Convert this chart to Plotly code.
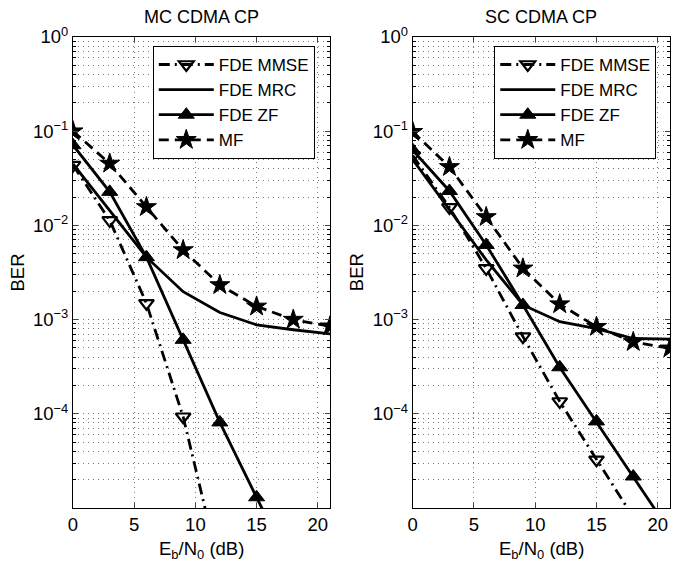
import plotly.graph_objects as go

# ---------------- data ----------------
snr = [0, 3, 6, 9, 12, 15, 18, 21]

# MC CDMA CP (left)
mc_mmse_x = [0, 3, 6, 9, 12]
mc_mmse = [0.0436, 0.0113, 0.00149, 9.3e-5, 2.2e-6]
mc_mrc = [0.045, 0.0143, 0.0046, 0.00198, 0.00119, 0.00088, 0.00078, 0.000705]
mc_zf_x = [0, 3, 6, 9, 12, 15, 18]
mc_zf = [0.071, 0.0227, 0.0046, 0.00061, 8.1e-5, 1.3e-5, 2.1e-6]
mc_mf = [0.1, 0.0454, 0.0157, 0.00547, 0.00233, 0.00138, 0.00100, 0.00085]

# SC CDMA CP (right)
sc_mmse_x = [0, 3, 6, 9, 12, 15, 18]
sc_mmse = [0.055, 0.0155, 0.0035, 0.00066, 0.000135, 3.25e-5, 8e-6]
sc_mrc = [0.05, 0.0148, 0.0043, 0.00143, 0.00095, 0.0008, 0.00063, 0.00062]
sc_zf = [0.063, 0.0232, 0.0062, 0.00143, 0.000312, 8.3e-5, 2.16e-5, 5.6e-6]
sc_mf = [0.0986, 0.0418, 0.0123, 0.0035, 0.00146, 0.00084, 0.00058, 0.000496]

titles = ["MC CDMA CP", "SC CDMA CP"]
names = ["FDE MMSE", "FDE MRC", "FDE ZF", "MF"]
xticks = [0, 5, 10, 15, 20]
yticks = [1e-4, 1e-3, 1e-2, 1e-1, 1]
yticktext = ["10<sup>\u22124</sup>", "10<sup>\u22123</sup>", "10<sup>\u22122</sup>",
             "10<sup>\u22121</sup>", "10<sup>0</sup>"]

FONT = "Liberation Sans, Arial, Helvetica, sans-serif"
LW = 2.8

fig = go.Figure()


def add_set(xa, ya, leg, mmse_x, mmse, mrc, zf_x, zf, mf):
    fig.add_trace(go.Scatter(
        x=mmse_x, y=mmse, name=names[0], xaxis=xa, yaxis=ya, legend=leg,
        mode="lines+markers",
        line=dict(color="black", width=LW, dash="11px,5px,2px,5px"),
        marker=dict(symbol="triangle-down-open", size=13, color="black",
                    line=dict(color="black", width=2.2))))
    fig.add_trace(go.Scatter(
        x=snr, y=mrc, name=names[1], xaxis=xa, yaxis=ya, legend=leg,
        mode="lines", line=dict(color="black", width=LW)))
    fig.add_trace(go.Scatter(
        x=zf_x, y=zf, name=names[2], xaxis=xa, yaxis=ya, legend=leg,
        mode="lines+markers", line=dict(color="black", width=LW),
        marker=dict(symbol="triangle-up", size=14, color="black",
                    line=dict(color="black", width=1))))
    fig.add_trace(go.Scatter(
        x=snr, y=mf, name=names[3], xaxis=xa, yaxis=ya, legend=leg,
        mode="lines+markers",
        line=dict(color="black", width=LW, dash="10px,6px"),
        marker=dict(symbol="star", size=15, color="black",
                    line=dict(color="black", width=1))))


add_set("x", "y", "legend", mc_mmse_x, mc_mmse, mc_mrc, mc_zf_x, mc_zf, mc_mf)
add_set("x2", "y2", "legend2", sc_mmse_x, sc_mmse, sc_mrc, snr, sc_zf, sc_mf)

GRID = "#777777"
xa_common = dict(
    range=[0, 21], tickvals=xticks, ticks="inside", ticklen=5,
    showline=True, linecolor="black", linewidth=1, mirror="ticks",
    showgrid=True, gridcolor=GRID, griddash="1px,4px", gridwidth=1,
    zeroline=False, tickfont=dict(size=18.5, color="black", family=FONT),
)
ya_common = dict(
    type="log", range=[-5, 0], tickvals=yticks, ticktext=yticktext,
    ticks="inside", ticklen=5,
    showline=True, linecolor="black", linewidth=1, mirror="ticks",
    showgrid=True, gridcolor=GRID, griddash="1px,4px", gridwidth=1,
    zeroline=False, tickfont=dict(size=18.5, color="black", family=FONT),
    minor=dict(dtick="D1", ticks="inside", ticklen=3, tickcolor="black",
               showgrid=True, gridcolor=GRID, griddash="1px,4px", gridwidth=1),
)

D1 = [0, 0.4305]
D2 = [0.569, 1]

leg_common = dict(
    bgcolor="white", bordercolor="black", borderwidth=1,
    font=dict(size=17, color="black", family=FONT),
    xanchor="right", yanchor="top", y=0.981, itemwidth=55,
    traceorder="normal", tracegroupgap=0,
)

# the page body adds an 8px offset; compensate so the plot area lands
# at x 73..670, y 37..508 of the 685x571 window
fig.update_layout(
    width=677, height=563,
    margin=dict(l=65, r=15, t=29, b=63),
    paper_bgcolor="white", plot_bgcolor="white",
    font=dict(family=FONT, size=18, color="black"),
    xaxis=dict(domain=D1, anchor="y", **xa_common),
    yaxis=dict(anchor="x", **ya_common),
    xaxis2=dict(domain=D2, anchor="y2", **xa_common),
    yaxis2=dict(anchor="x2", **ya_common),
    legend=dict(x=0.405, **leg_common),
    legend2=dict(x=0.977, **leg_common),
    showlegend=True,
)

for dom, t in zip([D1, D2], titles):
    cx = (dom[0] + dom[1]) / 2
    fig.add_annotation(text=t, x=cx, y=1, xref="paper", yref="paper",
                       xanchor="center", yanchor="middle", yshift=20,
                       showarrow=False, font=dict(size=18, family=FONT))
    fig.add_annotation(text="E<sub>b</sub>/N<sub>0</sub> (dB)", x=cx, y=0,
                       xref="paper", yref="paper", xanchor="center",
                       yanchor="middle", yshift=-42, showarrow=False,
                       font=dict(size=18.5, family=FONT))
    fig.add_annotation(text="BER", x=dom[0], y=0.5, xref="paper", yref="paper",
                       xanchor="center", yanchor="middle", xshift=-56,
                       textangle=-90, showarrow=False,
                       font=dict(size=18.5, family=FONT))

fig.write_html("out.html")
